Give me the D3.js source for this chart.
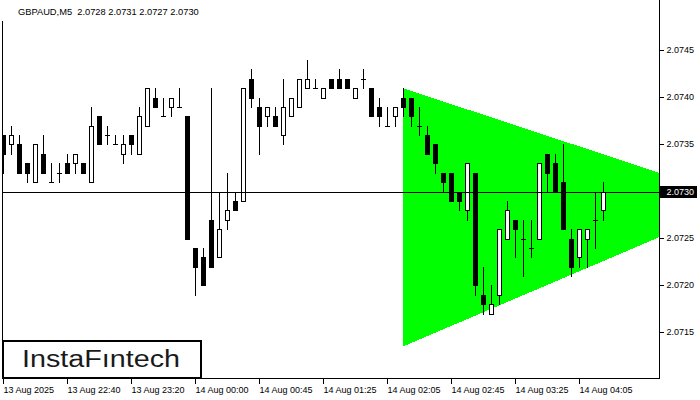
<!DOCTYPE html>
<html><head><meta charset="utf-8">
<script src="https://cdn.jsdelivr.net/npm/d3@7"></script>
<style>
body{margin:0;background:#fff}
svg{display:block}
text{font-family:"Liberation Sans",Arial,sans-serif}
</style>
</head><body>
<svg id="chart" width="700" height="400"></svg>
<script>
const symbol = "GBPAUD,M5";
const lastBar = ["2.0728", "2.0731", "2.0727", "2.0730"];

const opens  = [2.0736,2.0735,2.0735,2.0733,2.0731,2.0734,2.0731,2.0732,2.0733,2.0733,
                2.0733,2.0731,2.0738,2.0736,2.0735,2.0734,2.0736,2.0734,2.0737,2.0740,
                2.0738,2.0739,2.0739,2.0738,2.0724,2.0723,2.0727,2.0723,2.0727,2.0729,
                2.0729,2.0742,2.0739,2.0738,2.0738,2.0736,2.0738,2.0739,2.0741,2.0741,
                2.0740,2.0742,2.0742,2.0742,2.0740,2.0742,2.0741,2.0739,2.0737,2.0738,
                2.0740,2.0740,2.0737,2.0736,2.0735,2.0732,2.0732,2.0730,2.0728,2.0732,
                2.0719,2.0717,2.0719,2.0725,2.0727,2.0725,2.0724,2.0725,2.0734,2.0733,
                2.0731,2.0725,2.0723,2.0725,2.0727,2.0728];
const highs  = [2.0736,2.0737,2.0736,2.0733,2.0735,2.0736,2.0733,2.0733,2.0734,2.0734,
                2.0733,2.0739,2.0738,2.0737,2.0736,2.0736,2.0736,2.0739,2.0741,2.0741,
                2.0740,2.0740,2.0741,2.0738,2.0724,2.0724,2.0741,2.0730,2.0732,2.0730,
                2.0741,2.0743,2.0740,2.0739,2.0739,2.0742,2.0740,2.0742,2.0744,2.0742,
                2.0741,2.0742,2.0743,2.0742,2.0741,2.0743,2.0741,2.0740,2.0739,2.0739,
                2.0741,2.0740,2.0739,2.0737,2.0735,2.0732,2.0732,2.0730,2.0733,2.0732,
                2.0722,2.0720,2.0726,2.0729,2.0727,2.0727,2.0727,2.0733,2.0734,2.0734,
                2.0735,2.0726,2.0726,2.0726,2.0730,2.0731];
const lows   = [2.0732,2.0734,2.0732,2.0731,2.0731,2.0732,2.0731,2.0731,2.0732,2.0732,
                2.0732,2.0731,2.0735,2.0735,2.0735,2.0733,2.0734,2.0734,2.0737,2.0739,
                2.0738,2.0738,2.0739,2.0725,2.0719,2.0720,2.0722,2.0723,2.0726,2.0728,
                2.0729,2.0739,2.0734,2.0737,2.0737,2.0735,2.0738,2.0739,2.0741,2.0741,
                2.0740,2.0741,2.0741,2.0741,2.0740,2.0741,2.0738,2.0737,2.0737,2.0737,
                2.0738,2.0737,2.0736,2.0734,2.0732,2.0730,2.0729,2.0728,2.0727,2.0719,
                2.0717,2.0717,2.0718,2.0725,2.0723,2.0721,2.0723,2.0725,2.0730,2.0730,
                2.0726,2.0721,2.0722,2.0722,2.0724,2.0727];
const closes = [2.0734,2.0736,2.0732,2.0732,2.0735,2.0732,2.0731,2.0732,2.0732,2.0734,
                2.0732,2.0737,2.0735,2.0736,2.0735,2.0735,2.0735,2.0738,2.0741,2.0739,
                2.0738,2.0740,2.0739,2.0725,2.0722,2.0720,2.0722,2.0726,2.0728,2.0728,
                2.0741,2.0740,2.0737,2.0739,2.0737,2.0739,2.0740,2.0742,2.0742,2.0741,
                2.0741,2.0741,2.0741,2.0741,2.0741,2.0742,2.0738,2.0738,2.0737,2.0739,
                2.0739,2.0738,2.0737,2.0734,2.0733,2.0731,2.0729,2.0729,2.0733,2.0720,
                2.0718,2.0718,2.0726,2.0728,2.0726,2.0725,2.0724,2.0733,2.0732,2.0730,
                2.0726,2.0722,2.0726,2.0726,2.0727,2.0730];

const xTickIndex  = [0, 8, 16, 24, 32, 40, 48, 56, 64, 72];
const xTickLabels = ["13 Aug 2025","13 Aug 22:40","13 Aug 23:20","14 Aug 00:00","14 Aug 00:45",
                     "14 Aug 01:25","14 Aug 02:05","14 Aug 02:45","14 Aug 03:25","14 Aug 04:05"];
const yTickValues = [2.0715, 2.0720, 2.0725, 2.0730, 2.0735, 2.0740, 2.0745];
const currentPrice = 2.0730;

// triangle pattern: [bar index, price]
const triangleCorners = [[49.9, 2.0741], [92.6, 2.0729], [49.9, 2.07135]];

const logoText = "InstaF\u0131ntech";

// ---------------- drawing ----------------
const svg = d3.select("#chart");
const plot = {left: 2.5, right: 659.5, top: 0, bottom: 378.5};

const x = d3.scaleLinear().domain([0, 75]).range([3.5, 603.5]);
const y = d3.scaleLinear().domain([2.0715, 2.0745]).range([332.5, 50.5]);
const py = v => Math.round(y(v));

svg.append("defs").append("clipPath").attr("id", "clip")
  .append("rect").attr("x", 3).attr("y", 0).attr("width", plot.right - 3).attr("height", plot.bottom);

const g = svg.append("g").attr("clip-path", "url(#clip)");

// triangle
g.append("polygon")
  .attr("points", triangleCorners.map(d => [x(d[0]), y(d[1])].join(",")).join(" "))
  .attr("fill", "#00ff00")
  .attr("shape-rendering", "crispEdges");

// candles
const bars = d3.range(opens.length).map(i => ({i, o: opens[i], h: highs[i], l: lows[i], c: closes[i]}));
const cg = g.append("g").attr("shape-rendering", "crispEdges");

bars.forEach(b => {
  const cx = x(b.i);
  cg.append("line")
    .attr("x1", cx).attr("x2", cx)
    .attr("y1", py(b.h)).attr("y2", py(b.l) + 1)
    .attr("stroke", "#000").attr("stroke-width", 1);
  const top = py(Math.max(b.o, b.c)), bot = py(Math.min(b.o, b.c));
  if (b.o === b.c) {
    cg.append("line")
      .attr("x1", cx - 2.5).attr("x2", cx + 2.5)
      .attr("y1", top + 0.5).attr("y2", top + 0.5)
      .attr("stroke", "#000").attr("stroke-width", 1);
  } else if (b.c > b.o) {
    cg.append("rect")
      .attr("x", cx - 2).attr("y", top + 0.5)
      .attr("width", 4).attr("height", bot - top)
      .attr("fill", "#fff").attr("stroke", "#000").attr("stroke-width", 1);
  } else {
    cg.append("rect")
      .attr("x", cx - 2.5).attr("y", top)
      .attr("width", 5).attr("height", bot - top + 1)
      .attr("fill", "#000");
  }
});

// current price line
svg.append("line")
  .attr("x1", 3).attr("x2", plot.right)
  .attr("y1", y(currentPrice) + 0.5).attr("y2", y(currentPrice) + 0.5)
  .attr("stroke", "#000").attr("stroke-width", 1)
  .attr("shape-rendering", "crispEdges");

// axes
const yAxis = d3.axisRight(y).tickValues(yTickValues).tickFormat(d3.format(".4f"))
  .tickSize(4).tickPadding(3).offset(0);
const ya = svg.append("g").attr("transform", `translate(${plot.right},0)`).call(yAxis);
ya.select(".domain").remove();
ya.selectAll("text").attr("font-size", 9).attr("font-family", "'Liberation Sans',Arial,sans-serif").attr("fill", "#000");
ya.selectAll("line").attr("shape-rendering", "crispEdges");

const xAxis = d3.axisBottom(x).tickValues(xTickIndex).tickFormat((d, i) => xTickLabels[i])
  .tickSize(5).tickPadding(3).offset(0);
const xa = svg.append("g").attr("transform", `translate(0,${plot.bottom})`).call(xAxis);
xa.select(".domain").remove();
xa.selectAll("text").attr("text-anchor", "start").attr("dx", 0)
  .attr("font-size", 9).attr("font-family", "'Liberation Sans',Arial,sans-serif").attr("fill", "#000");
xa.selectAll("line").attr("shape-rendering", "crispEdges");

// frame
const frame = svg.append("g").attr("stroke", "#000").attr("stroke-width", 1).attr("shape-rendering", "crispEdges");
frame.append("line").attr("x1", plot.left).attr("x2", plot.left).attr("y1", 21).attr("y2", plot.bottom);
frame.append("line").attr("x1", plot.right).attr("x2", plot.right).attr("y1", 0).attr("y2", plot.bottom);
frame.append("line").attr("x1", plot.left).attr("x2", plot.right).attr("y1", plot.bottom).attr("y2", plot.bottom);

// current price label
const cpY = y(currentPrice);
svg.append("rect").attr("x", 660).attr("y", Math.round(cpY) - 6).attr("width", 37).attr("height", 12).attr("fill", "#000");
svg.append("text").attr("x", 666.5).attr("y", cpY + 3.5)
  .attr("font-size", 9).attr("fill", "#fff").text(d3.format(".4f")(currentPrice));

// header
svg.append("text").attr("x", 18).attr("y", 15).attr("font-size", 9.3).attr("fill", "#000")
  .attr("xml:space", "preserve").style("white-space", "pre")
  .text(symbol + "  " + lastBar.join(" "));

// logo
svg.append("rect").attr("x", 3).attr("y", 341).attr("width", 198).attr("height", 37)
  .attr("fill", "#fff").attr("stroke", "#000").attr("stroke-width", 2);
svg.append("text").attr("x", 22).attr("y", 367)
  .attr("font-family", "'DejaVu Sans',sans-serif").attr("font-size", 23).attr("fill", "#1a1a1a")
  .attr("textLength", 158).attr("lengthAdjust", "spacingAndGlyphs")
  .text(logoText);
</script>
</body></html>
